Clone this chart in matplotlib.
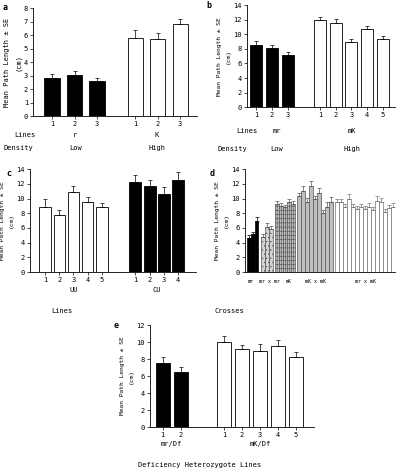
import matplotlib
matplotlib.use('Agg')
import matplotlib.pyplot as plt
import numpy as np

plt.rcParams['font.family'] = ['DejaVu Sans Mono']
plt.rcParams['font.size'] = 5
plt.rcParams['hatch.linewidth'] = 0.4

# ---- data ----
# panel a
a_low = [2.85, 3.05, 2.6]
a_low_se = [0.25, 0.3, 0.2]
a_high = [5.75, 5.7, 6.8]
a_high_se = [0.6, 0.45, 0.4]

# panel b
b_low = [8.6, 8.1, 7.2]
b_low_se = [0.5, 0.5, 0.4]
b_high = [12.0, 11.6, 9.0, 10.7, 9.3]
b_high_se = [0.4, 0.5, 0.4, 0.4, 0.5]

# panel c
c_uu = [8.9, 7.8, 10.9, 9.5, 8.8]
c_uu_se = [1.0, 0.6, 0.8, 0.7, 0.6]
c_cu = [12.3, 11.7, 10.6, 12.6]
c_cu_se = [0.9, 0.9, 1.0, 1.0]

# panel d (crosses)
d_mr = [4.7, 5.2, 6.9]
d_mr_se = [0.3, 0.3, 0.6]
d_mrxmr = [4.8, 6.2, 5.9]
d_mrxmr_se = [0.4, 0.5, 0.4]
d_mk = [9.3, 9.0, 8.8, 9.5, 9.3]
d_mk_se = [0.4, 0.4, 0.3, 0.5, 0.4]
d_mkxmk = [10.3, 11.1, 9.6, 11.7, 9.9, 10.8, 8.0, 8.9, 9.6]
d_mkxmk_se = [0.5, 0.6, 0.5, 0.7, 0.5, 0.6, 0.5, 0.6, 0.6]
d_mrxmk = [9.5, 9.5, 8.8, 10.0, 8.9, 8.6, 8.9, 8.6, 8.9, 8.4, 9.7, 9.6, 8.2, 8.7, 8.9]
d_mrxmk_se = [0.5, 0.5, 0.4, 0.6, 0.4, 0.4, 0.4, 0.4, 0.5, 0.4, 0.6, 0.5, 0.4, 0.4, 0.5]
d_labels = ['mr', 'mr x mr', 'mK', 'mK x mK', 'mr x mK']

# panel e
e_mr = [7.6, 6.5]
e_mr_se = [0.6, 0.6]
e_mk = [10.0, 9.2, 9.0, 9.5, 8.2]
e_mk_se = [0.7, 0.5, 0.8, 0.7, 0.6]

YLABEL = 'Mean Path Length \u00b1 SE\n(cm)'


def style(ax, ymax, step, ylsize=4.5):
    for s in ['top', 'right']:
        ax.spines[s].set_visible(False)
    for s in ['left', 'bottom']:
        ax.spines[s].set_linewidth(0.6)
    ax.set_ylim(0, ymax)
    ax.set_yticks(np.arange(0, ymax + 0.1, step))
    ax.tick_params(length=2, width=0.5, pad=1.5, labelsize=5)
    ax.set_ylabel(YLABEL, fontsize=ylsize, labelpad=2, linespacing=2.0)


def bars(ax, x, h, se, color, width=0.75, hatch=None, ecol='black', lw=0.6):
    ax.bar(x, h, width, color=color, edgecolor=ecol, linewidth=lw, hatch=hatch)
    ax.errorbar(x, h, yerr=[np.zeros(len(h)), se], fmt='none', ecolor=ecol,
                elinewidth=0.5, capsize=1.6, capthick=0.5)


def ftext(x, y, s, **kw):
    # place text using pixel coordinates measured from the top-left
    fig.text(x / 400, 1 - y / 474, s, va='center', **kw)


fig = plt.figure(figsize=(4.0, 4.74), dpi=100)

# ---------- panel a ----------
ax = fig.add_axes([0.0825, 0.755, 0.41, 0.228])
xa1 = np.arange(3)
xa2 = np.arange(3) + 3.7
bars(ax, xa1, a_low, a_low_se, 'black', 0.68)
bars(ax, xa2, a_high, a_high_se, 'white', 0.68)
ax.set_xlim(-0.85, 6.45)
ax.set_xticks(np.concatenate([xa1, xa2]))
ax.set_xticklabels(['1', '2', '3', '1', '2', '3'])
style(ax, 8, 1, 5.0)
ftext(5, 8, 'a', fontsize=6, fontweight='bold', ha='center')

# ---------- panel b ----------
ax = fig.add_axes([0.6175, 0.774, 0.37, 0.215])
xb1 = np.arange(3)
xb2 = np.arange(5) + 4.1
bars(ax, xb1, b_low, b_low_se, 'black', 0.77)
bars(ax, xb2, b_high, b_high_se, 'white', 0.77)
ax.set_xlim(-0.6, 8.9)
ax.set_xticks(np.concatenate([xb1, xb2]))
ax.set_xticklabels(['1', '2', '3', '1', '2', '3', '4', '5'])
style(ax, 14, 2)
ftext(209, 6, 'b', fontsize=6, fontweight='bold', ha='center')

# group labels for a and b
ftext(14, 135, 'Lines')
ftext(75, 135, 'r', ha='center')
ftext(157, 135, 'K', ha='center')
ftext(3, 148, 'Density')
ftext(76, 148, 'Low', ha='center')
ftext(157, 148, 'High', ha='center')
ftext(236, 131, 'Lines')
ftext(277, 131, 'mr', ha='center')
ftext(352, 131, 'mK', ha='center')
ftext(217, 149, 'Density')
ftext(277, 149, 'Low', ha='center')
ftext(352, 149, 'High', ha='center')

# ---------- panel c ----------
ax = fig.add_axes([0.075, 0.426, 0.415, 0.217])
xc1 = np.arange(5)
xc2 = np.arange(4) + 6.35
bars(ax, xc1, c_uu, c_uu_se, 'white', 0.8)
bars(ax, xc2, c_cu, c_cu_se, 'black', 0.85)
ax.set_xlim(-1.05, 10.6)
ax.set_xticks(np.concatenate([xc1, xc2]))
ax.set_xticklabels(['1', '2', '3', '4', '5', '1', '2', '3', '4'])
style(ax, 14, 2)
ftext(9, 173, 'c', fontsize=6, fontweight='bold', ha='center')
ax.text(2, -0.19, 'UU', transform=ax.get_xaxis_transform(), ha='center')
ax.text(7.85, -0.19, 'CU', transform=ax.get_xaxis_transform(), ha='center')
ftext(62, 311, 'Lines', ha='center')

# ---------- panel d ----------
ax = fig.add_axes([0.6125, 0.426, 0.375, 0.217])
groups = [
    (d_mr, d_mr_se, 'black', None, 'black'),
    (d_mrxmr, d_mrxmr_se, '#d4d4d4', '....', '#555555'),
    (d_mk, d_mk_se, '#bdbdbd', '++++', '#555555'),
    (d_mkxmk, d_mkxmk_se, '#bfbfbf', None, '#555555'),
    (d_mrxmk, d_mrxmk_se, 'white', None, '#777777'),
]
pos = 0.0
centers = []
for vals, se, col, hat, ec in groups:
    xs = pos + np.arange(len(vals))
    bars(ax, xs, vals, se, col, 1.0, hat, ec, 0.5)
    centers.append(xs.mean())
    pos = xs[-1] + 1.6
ax.set_xlim(-0.9, pos - 1.1)
ax.set_xticks([])
style(ax, 14, 2)
ftext(212, 173, 'd', fontsize=6, fontweight='bold', ha='center')
offsets = [-0.5, 0.6, 0.8, 0.0, 0.0]
for cx, off, lab in zip(centers, offsets, d_labels):
    ax.text(cx + off, -0.07, lab, transform=ax.get_xaxis_transform(), ha='center',
            va='top', fontsize=3.6)
ftext(229, 311, 'Crosses', ha='center')

# ---------- panel e ----------
ax = fig.add_axes([0.375, 0.099, 0.41, 0.215])
xe1 = np.arange(2)
xe2 = np.arange(5) + 3.4
bars(ax, xe1, e_mr, e_mr_se, 'black', 0.78)
bars(ax, xe2, e_mk, e_mk_se, 'white', 0.8)
ax.set_xlim(-0.7, 8.4)
ax.set_xticks(np.concatenate([xe1, xe2]))
ax.set_xticklabels(['1', '2', '1', '2', '3', '4', '5'])
style(ax, 12, 2)
ftext(116, 325, 'e', fontsize=6, fontweight='bold', ha='center')
ax.text(0.5, -0.19, 'mr/Df', transform=ax.get_xaxis_transform(), ha='center')
ax.text(5.4, -0.19, 'mK/Df', transform=ax.get_xaxis_transform(), ha='center')
ftext(200, 465, 'Deficiency Heterozygote Lines', ha='center')

fig.savefig('out.png', dpi=100)
